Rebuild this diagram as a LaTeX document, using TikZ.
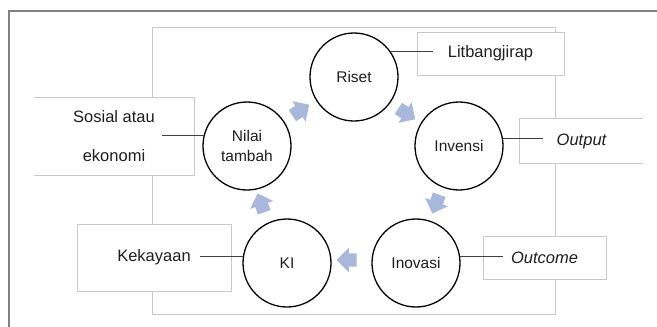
\documentclass[tikz,border=0pt]{standalone}
\usepackage{fontspec}
\setmainfont{Liberation Sans}
\usetikzlibrary{shapes.arrows}
\definecolor{flowblue}{RGB}{169,183,219}
\definecolor{linegray}{RGB}{200,200,200}
\definecolor{txtgray}{RGB}{30,30,30}
\begin{document}
\begin{tikzpicture}[x=1pt,y=-1pt,
  cyc/.style={draw=black,line width=1.3pt,circle,minimum size=88pt,inner sep=0pt,align=center,text=txtgray,font=\fontsize{15.5}{20}\selectfont},
  lbox/.style={fill=white,draw=linegray,line width=0.9pt,inner sep=0pt,align=center,text=txtgray,font=\fontsize{16.5}{20}\selectfont},
  flow/.style={single arrow,fill=flowblue,inner sep=0pt,text height=6.5pt,text depth=6.5pt,text width=0pt,minimum height=20pt,single arrow head extend=5.5pt},
  link/.style={draw=black!75,line width=0.9pt}]
\useasboundingbox (0,0) rectangle (657,327);
% outer frame (only top and left edge)
\draw[black!50,line width=1.3pt] (9,327) -- (9,11) -- (657,11);
% light frame behind the boxes
\draw[linegray,line width=0.9pt] (152,27) rectangle (555,314);
% boxes
\node[lbox,minimum width=147pt,minimum height=43pt] (lit) at (490.5,53.5) {Litbangjirap};
\node[lbox,draw=none,minimum width=160pt,minimum height=77pt,font=\fontsize{16.5}{39}\selectfont] (sos) at (114,136.5) {Sosial atau\\ekonomi};
\draw[linegray,line width=0.9pt] (sos.north west) -- (sos.north east) -- (sos.south east) -- (sos.south west);
\node[lbox,draw=none,minimum width=123pt,minimum height=44pt,font=\fontsize{16.5}{20}\selectfont\itshape] (out) at (581.5,141) {Output};
\draw[linegray,line width=0.9pt] (out.north east) -- (out.north west) -- (out.south west) -- (out.south east);
\node[lbox,minimum width=123pt,minimum height=43pt,font=\fontsize{16.5}{20}\selectfont\itshape] (outc) at (544.5,257.5) {Outcome};
\node[lbox,minimum width=154pt,minimum height=67pt] (kek) at (154,257.5) {Kekayaan};
% cycle
\node[cyc] (riset) at (354,77) {Riset};
\node[cyc] (inv) at (459,146) {Invensi};
\node[cyc] (inov) at (416,263) {Inovasi};
\node[cyc] (ki) at (287,263) {KI};
\node[cyc] (nilai) at (247,146) {Nilai\\tambah};
\node[flow,rotate=33] (f1) at (298,112) {};
\node[flow,rotate=-33] (f2) at (404,112) {};
\node[flow,rotate=-110] (f3) at (437,201) {};
\node[flow,rotate=180] (f4) at (350,260) {};
\node[flow,rotate=109] (f5) at (262,206) {};
% links to the boxes
\coordinate (litend) at ([xshift=16pt]lit.west);
\coordinate (sosend) at ([xshift=-32pt]sos.east);
\coordinate (outend) at ([xshift=23pt]out.west);
\coordinate (outcend) at ([xshift=20pt]outc.west);
\coordinate (kekend) at ([xshift=-31pt]kek.east);
\draw[link] (riset.35) -- (riset.35 -| litend);
\draw[link] (nilai.166) -- (nilai.166 -| sosend);
\draw[link] (inv.10) -- (inv.10 -| outend);
\draw[link] (inov.8) -- (inov.8 -| outcend);
\draw[link] (ki.172) -- (ki.172 -| kekend);
\end{tikzpicture}
\end{document}
